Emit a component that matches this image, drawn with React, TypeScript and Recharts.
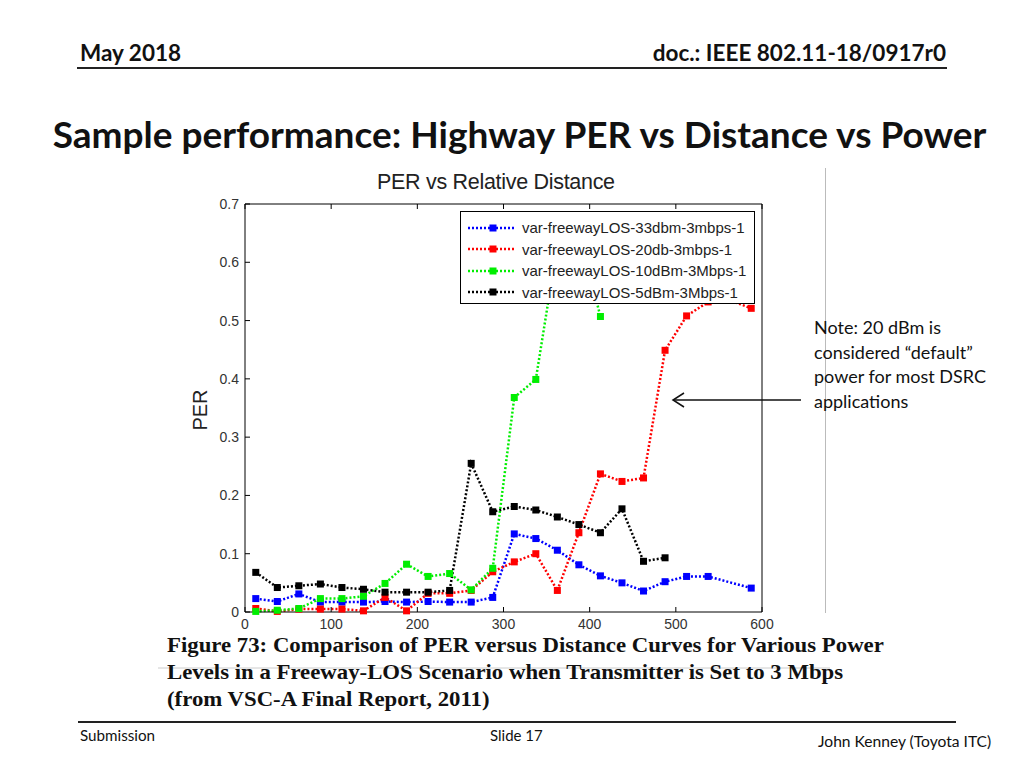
import React from "react";
import {
  LineChart,
  Line,
  XAxis,
  YAxis,
  Legend,
} from "recharts";

const distances = [
  12.5, 37.5, 62.5, 87.5, 112.5, 137.5, 162.5, 187.5, 212.5, 237.5, 262.5, 287.5,
  312.5, 337.5, 362.5, 387.5, 412.5, 437.5, 462.5, 487.5, 512.5, 537.5, 562.5, 587.5,
];

const per33dbm = [
  0.023, 0.018, 0.031, 0.017, 0.017, 0.017, 0.018, 0.017, 0.018, 0.017, 0.017, 0.025,
  0.134, 0.126, 0.106, 0.081, 0.062, 0.05, 0.036, 0.052, 0.061, 0.061, null, 0.041,
];

const per20db = [
  0.006, 0.001, 0.005, 0.005, 0.005, 0.002, 0.025, 0.002, 0.032, 0.032, 0.037, 0.069,
  0.086, 0.1, 0.037, 0.136, 0.237, 0.224, 0.23, 0.449, 0.508, 0.532, 0.535, 0.521,
];

const per10dbm = [
  0.001, 0.003, 0.006, 0.023, 0.023, 0.027, 0.049, 0.082, 0.061, 0.066, 0.038, 0.075,
  0.368, 0.399, 0.63, 0.65, 0.507, null, null, null, null, null, null, null,
];

const per5dbm = [
  0.068, 0.042, 0.045, 0.048, 0.042, 0.039, 0.034, 0.034, 0.034, 0.037, 0.255, 0.172,
  0.181, 0.175, 0.163, 0.15, 0.136, 0.177, 0.087, 0.093, null, null, null, null,
];

const xTicks = [0, 100, 200, 300, 400, 500, 600];
const yTicks = [0, 0.1, 0.2, 0.3, 0.4, 0.5, 0.6, 0.7];

const series = [
  { key: "s33", name: "var-freewayLOS-33dbm-3mbps-1", color: "#0000ff", values: per33dbm },
  { key: "s20", name: "var-freewayLOS-20db-3mbps-1", color: "#ff0000", values: per20db },
  { key: "s10", name: "var-freewayLOS-10dBm-3Mbps-1", color: "#00ee00", values: per10dbm },
  { key: "s5", name: "var-freewayLOS-5dBm-3Mbps-1", color: "#000000", values: per5dbm },
];

const data = distances.map((d, i) => {
  const row: Record<string, number | null> = { d };
  series.forEach((s) => {
    row[s.key] = s.values[i];
  });
  return row;
});

const matlabFont = "'Liberation Sans', Arial, sans-serif";
const slideFont = "Lato, 'Open Sans', sans-serif";

function SquareDot(color: string) {
  return (props: any) => {
    const { cx, cy, index } = props;
    if (cx == null || cy == null || props.value == null) return <g key={index} />;
    return <rect key={index} x={cx - 3.5} y={cy - 3.5} width={7} height={7} fill={color} />;
  };
}

function LegendBox() {
  return (
    <div
      style={{
        background: "#fff",
        border: "1px solid #000",
        width: 295,
        height: 93,
        boxSizing: "border-box",
        padding: "5px 0 0 6px",
        fontFamily: matlabFont,
        fontSize: 15,
        color: "#222",
        textAlign: "left",
      }}
    >
      {series.map((s) => (
        <div key={s.key} style={{ display: "flex", alignItems: "center", height: 21.5 }}>
          <svg width={50} height={10} style={{ marginRight: 5 }}>
            <line x1={1} y1={5} x2={48} y2={5} stroke={s.color} strokeWidth={2.5} strokeDasharray="2 2" />
            <rect x={22.5} y={1.5} width={7} height={7} fill={s.color} />
          </svg>
          <span style={{ whiteSpace: "nowrap" }}>{s.name}</span>
        </div>
      ))}
    </div>
  );
}

export default function App() {
  return (
    <div style={{ position: "absolute", left: 0, top: 0, width: 1024, height: 768, background: "#fff", overflow: "hidden" }}>
      {/* header */}
      <div style={{ position: "absolute", left: 80, top: 39, fontFamily: slideFont, fontWeight: 700, fontSize: 22.5, color: "#111" }}>
        May 2018
      </div>
      <div style={{ position: "absolute", right: 78, top: 39, fontFamily: slideFont, fontWeight: 700, fontSize: 22.5, color: "#111" }}>
        doc.: IEEE 802.11-18/0917r0
      </div>
      <div style={{ position: "absolute", left: 77, top: 67, width: 870, height: 2, background: "#222" }} />

      <div style={{ position: "absolute", left: 0, width: 1039, top: 111, textAlign: "center", fontFamily: slideFont, fontWeight: 700, fontSize: 37, color: "#111", whiteSpace: "nowrap" }}>
        Sample performance: Highway PER vs Distance vs Power
      </div>

      {/* chart */}
      <div style={{ position: "absolute", left: 160, top: 190 }}>
        <div style={{ position: "absolute", left: 217, top: -20, fontFamily: matlabFont, fontSize: 21.5, color: "#222", whiteSpace: "nowrap", letterSpacing: -0.3 }}>
          PER vs Relative Distance
        </div>
        <div
          style={{
            position: "absolute",
            left: 40,
            top: 220,
            transform: "translate(-50%, -50%) rotate(-90deg)",
            fontFamily: matlabFont,
            fontSize: 20,
            color: "#222",
            zIndex: 2,
          }}
        >
          PER
        </div>
        <LineChart width={627} height={450} data={data} margin={{ top: 9, right: 20, left: 40, bottom: 3 }}>
          <XAxis
            dataKey="d"
            type="number"
            domain={[0, 600]}
            ticks={xTicks}
            tickSize={-5}
            tickMargin={12}
            height={25}
            stroke="#000"
            tick={{ fill: "#333", fontSize: 14, fontFamily: matlabFont }}
            interval={0}
          />
          <XAxis
            xAxisId="top"
            orientation="top"
            dataKey="d"
            type="number"
            domain={[0, 600]}
            ticks={xTicks}
            tickSize={-5}
            height={5}
            stroke="#000"
            tickFormatter={() => ""}
          />
          <YAxis
            type="number"
            domain={[0, 0.7]}
            ticks={yTicks}
            tickSize={-5}
            tickMargin={11}
            width={45}
            stroke="#000"
            tick={{ fill: "#333", fontSize: 14, fontFamily: matlabFont }}
            tickFormatter={(v: number) => (v === 0 ? "0" : v.toFixed(1))}
            interval={0}
          />
          <YAxis
            yAxisId="right"
            orientation="right"
            type="number"
            domain={[0, 0.7]}
            ticks={yTicks}
            tickSize={-5}
            width={5}
            stroke="#000"
            tickFormatter={() => ""}
          />
          {series.map((s) => (
            <Line
              key={s.key}
              dataKey={s.key}
              name={s.name}
              stroke={s.color}
              strokeWidth={2.5}
              strokeDasharray="2 2"
              dot={SquareDot(s.color)}
              activeDot={false}
              connectNulls={s.key === "s33"}
              isAnimationActive={false}
            />
          ))}
          <Legend
            layout="horizontal"
            verticalAlign="middle"
            align="center"
            content={() => <LegendBox />}
            wrapperStyle={{ position: "absolute", left: 300, top: 21, width: 295, height: 93 }}
          />
        </LineChart>
      </div>

      {/* annotation */}
      <div style={{ position: "absolute", left: 825, top: 168, width: 1, height: 445, background: "#bbb" }} />
      <div style={{ position: "absolute", left: 814, top: 315, fontFamily: slideFont, fontSize: 18, lineHeight: "24.5px", color: "#111", whiteSpace: "nowrap" }}>
        Note: 20 dBm is
        <br />
        considered “default”
        <br />
        power for most DSRC
        <br />
        applications
      </div>
      <svg style={{ position: "absolute", left: 0, top: 0 }} width={1024} height={768}>
        <line x1={673} y1={400} x2={801} y2={400} stroke="#111" strokeWidth={1.5} />
        <polyline points="684,393 673,400 684,407" fill="none" stroke="#111" strokeWidth={1.5} />
        <line x1={158} y1={668} x2={830} y2={668} stroke="#ccc" strokeWidth={1} />
      </svg>

      {/* caption */}
      <div
        style={{
          position: "absolute",
          left: 167,
          top: 632,
          fontFamily: "'Liberation Serif', 'Times New Roman', serif",
          fontWeight: 700,
          fontSize: 21,
          lineHeight: "27px",
          color: "#111",
          whiteSpace: "nowrap",
          transform: "scaleX(1.085)",
          transformOrigin: "0 0",
        }}
      >
        Figure 73: Comparison of PER versus Distance Curves for Various Power
        <br />
        Levels in a Freeway-LOS Scenario when Transmitter is Set to 3 Mbps
        <br />
        (from VSC-A Final Report, 2011)
      </div>

      {/* footer */}
      <div style={{ position: "absolute", left: 78, top: 721, width: 878, height: 2, background: "#222" }} />
      <div style={{ position: "absolute", left: 80, top: 726, fontFamily: slideFont, fontSize: 15.2, color: "#111" }}>Submission</div>
      <div style={{ position: "absolute", left: 490, top: 726, fontFamily: slideFont, fontSize: 15, color: "#111" }}>Slide 17</div>
      <div style={{ position: "absolute", left: 818, top: 732, fontFamily: slideFont, fontSize: 15.6, color: "#111" }}>John Kenney (Toyota ITC)</div>
    </div>
  );
}
